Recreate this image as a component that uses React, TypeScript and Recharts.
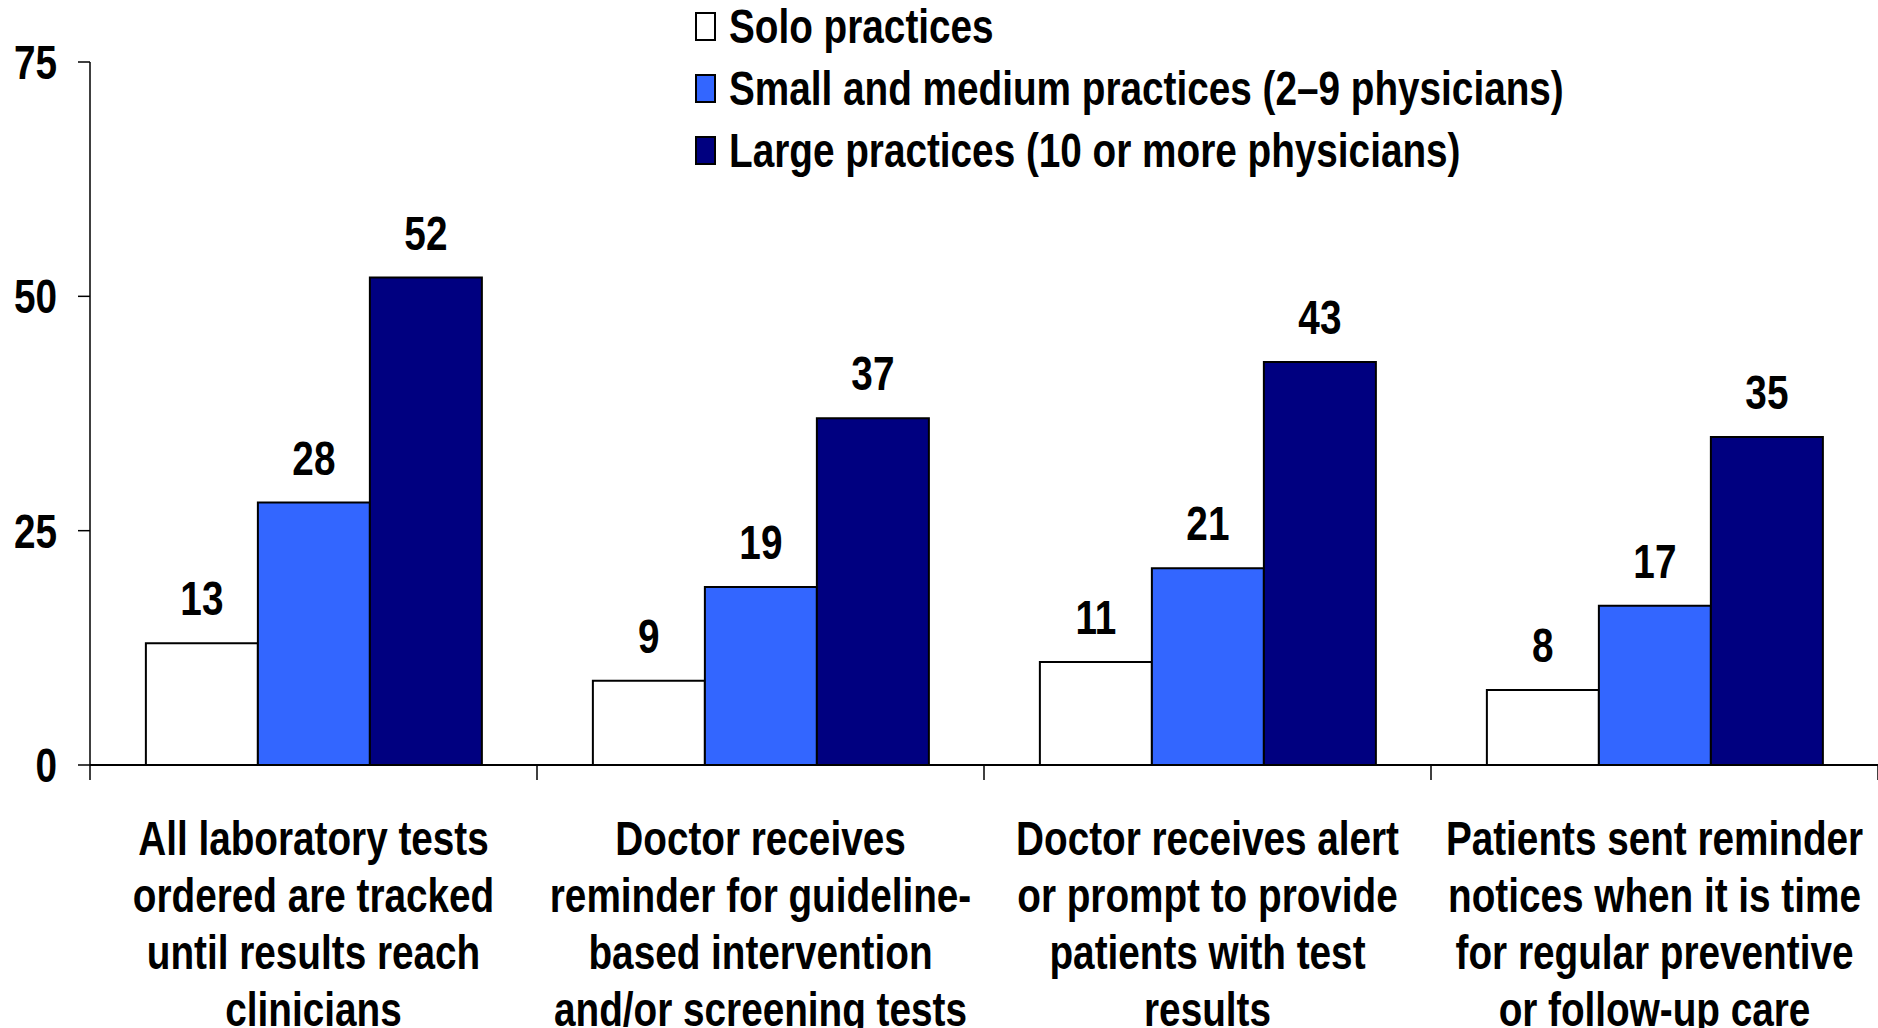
import React from 'react';
import { BarChart, Bar, XAxis, YAxis, LabelList } from 'recharts';

const categoryLines = [
  ['All laboratory tests', 'ordered are tracked', 'until results reach', 'clinicians'],
  ['Doctor receives', 'reminder for guideline-', 'based intervention', 'and/or screening tests'],
  ['Doctor receives alert', 'or prompt to provide', 'patients with test', 'results'],
  ['Patients sent reminder', 'notices when it is time', 'for regular preventive', 'or follow-up care'],
];

const soloValues = [13, 9, 11, 8];
const smallMediumValues = [28, 19, 21, 17];
const largeValues = [52, 37, 43, 35];

const yTicks = [0, 25, 50, 75];
const boundaryTicks = [0, 1, 2, 3, 4];

const seriesNames = [
  'Solo practices',
  'Small and medium practices (2–9 physicians)',
  'Large practices (10 or more physicians)',
];
const seriesKeys = ['solo', 'smallMedium', 'large'];
const seriesColors = ['#ffffff', '#3366ff', '#000080'];

// no narrow font installed, so squeeze Liberation Sans bold to look like Arial Narrow
const FONT = "'Liberation Sans', Arial, sans-serif";
const FONT_SIZE = 49;
const SQUEEZE = 0.79;

const data = categoryLines.map((lines, i) => ({
  name: lines.join(' '),
  pos: i + 0.5,
  solo: soloValues[i],
  smallMedium: smallMediumValues[i],
  large: largeValues[i],
}));

function NarrowText({ x, y, anchor = 'middle', children }: any) {
  return (
    <g transform={`translate(${x},${y})`}>
      <text
        transform={`scale(${SQUEEZE},1)`}
        x={0}
        y={0}
        textAnchor={anchor}
        fontFamily={FONT}
        fontSize={FONT_SIZE}
        fontWeight="bold"
        fill="#000"
      >
        {children}
      </text>
    </g>
  );
}

function CategoryTick({ x, y, payload }: any) {
  const idx = data.findIndex((d) => d.name === payload.value);
  const lines = categoryLines[idx] || [];
  return (
    <g>
      {lines.map((line, i) => (
        <NarrowText key={i} x={x} y={y + 87 + i * 57}>
          {line}
        </NarrowText>
      ))}
    </g>
  );
}

function ValueTick({ x, y, payload }: any) {
  return (
    <NarrowText x={x} y={y + 17} anchor="end">
      {payload.value}
    </NarrowText>
  );
}

function EmptyTick() {
  return <g />;
}

function BarValue({ x, y, width, value }: any) {
  return (
    <NarrowText x={x + width / 2} y={y - 28}>
      {value}
    </NarrowText>
  );
}

function LegendBox() {
  return (
    <div style={{ position: 'absolute', left: 695, top: 0 }}>
      {seriesNames.map((name, i) => (
        <div
          key={name}
          style={{
            position: 'absolute',
            top: 26 + i * 62 - 30,
            left: 0,
            height: 60,
            display: 'flex',
            alignItems: 'center',
            whiteSpace: 'nowrap',
          }}
        >
          <span
            style={{
              display: 'inline-block',
              width: 17,
              height: 25,
              background: seriesColors[i],
              border: '2px solid #000',
              marginRight: 13,
            }}
          />
          <span
            style={{
              display: 'inline-block',
              fontFamily: FONT,
              fontSize: FONT_SIZE,
              fontWeight: 'bold',
              color: '#000',
              transform: `scaleX(${SQUEEZE})`,
              transformOrigin: 'left center',
            }}
          >
            {name}
          </span>
        </div>
      ))}
    </div>
  );
}

export default function App() {
  return (
    <div style={{ position: 'absolute', left: 0, top: 0, width: 1878, height: 1028, background: '#fff' }}>
      <BarChart
        width={1878}
        height={1028}
        data={data}
        margin={{ top: 62, right: 0, left: 0, bottom: 0 }}
        barCategoryGap="12.5%"
        barGap={0}
      >
        {/* axis id 0 sits closest to the plot: axis line plus ticks between the groups */}
        <XAxis
          xAxisId={0}
          type="number"
          dataKey="pos"
          domain={[0, 4]}
          ticks={boundaryTicks}
          interval={0}
          allowDataOverflow
          height={1}
          axisLine={{ stroke: '#000', strokeWidth: 2 }}
          tick={<EmptyTick />}
          tickSize={15}
          tickLine={{ stroke: '#000', strokeWidth: 1.5 }}
        />
        <XAxis
          xAxisId="cat"
          dataKey="name"
          height={262}
          interval={0}
          tickLine={false}
          tickSize={0}
          axisLine={false}
          tick={<CategoryTick />}
        />
        <YAxis
          width={90}
          domain={[0, 75]}
          ticks={yTicks}
          interval={0}
          tickSize={12}
          tickMargin={21}
          axisLine={{ stroke: '#000', strokeWidth: 1.5 }}
          tickLine={{ stroke: '#000', strokeWidth: 1.5 }}
          tick={<ValueTick />}
        />
        {seriesKeys.map((key, i) => (
          <Bar
            key={key}
            xAxisId="cat"
            dataKey={key}
            name={seriesNames[i]}
            fill={seriesColors[i]}
            stroke="#000"
            strokeWidth={2}
            isAnimationActive={false}
          >
            <LabelList dataKey={key} content={<BarValue />} />
          </Bar>
        ))}
      </BarChart>
      <LegendBox />
    </div>
  );
}
